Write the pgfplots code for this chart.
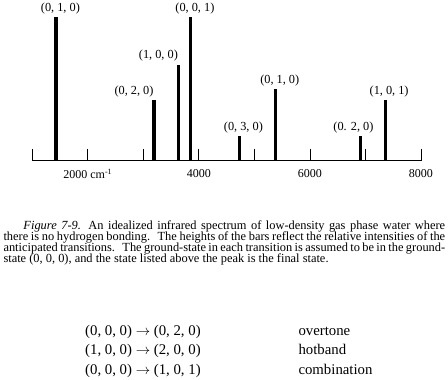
\documentclass[border=0pt]{standalone}
\usepackage{pgfplots}
\pgfplotsset{compat=1.18}
\usepackage{fontspec}
\setmainfont{Liberation Serif}
\begin{document}
\begin{tikzpicture}[x=1pt,y=1pt]
\useasboundingbox (0,0) rectangle (448,380);
\begin{axis}[
  at={(32.3pt,219.3pt)}, anchor=south west,
  scale only axis, width=388.7pt, height=143.4pt,
  xmin=1000, xmax=8000, ymin=0, ymax=100,
  axis x line*=bottom, axis y line=none,
  xtick={1000,2000,...,8000},
  xticklabels={,2000 cm\textsuperscript{-1},,4000,,6000,,8000},
  tick align=inside, major tick length=12pt,
  every tick/.style={black, line width=0.8pt},
  axis line style={line width=1.4pt},
  xticklabel style={font=\fontsize{12}{14}\selectfont, yshift=-5pt},
  clip=false,
]
\addplot[ycomb, line width=3.2pt, black, mark=none,
  nodes near coords, point meta=explicit symbolic,
  visualization depends on={\thisrow{dx}\as\dx},
  every node near coord/.append style={font=\fontsize{12.3}{14}\selectfont, xshift=\dx pt, text=black, anchor=south, inner sep=1.5pt}]
  table[x=x, y=y, meta=lab, col sep=semicolon] {
x;y;dx;lab
1425;100;4.5;(0, 1, 0)
3192;42;-20;(0, 2, 0)
3631;67;-20;(1, 0, 0)
3847;100;4.5;(0, 0, 1)
4730;17;4;(0, 3, 0)
5384;50;4;(0, 1, 0)
6910;17;-7;(0. 2, 0)
7354;42;4;(1, 0, 1)
};
\end{axis}
\node[anchor=base west, inner sep=0pt, font=\fontsize{12.4}{10.9}\selectfont] at (3.3,150.5)
  {\vtop{\baselineskip=10.9pt \lineskiplimit=-5pt
  \hbox to 441.7pt{\hspace*{20pt}\textit{Figure 7-9.}\hspace{0.6em}An idealized infrared spectrum of low-density gas phase water where}
  \hbox to 441.7pt{there is no hydrogen bonding.\hspace{0.6em}The heights of the bars reflect the relative intensities of the}
  \hbox to 441.7pt{anticipated transitions.\hspace{0.6em}The ground-state in each transition is assumed to be in the ground-}
  \hbox to 441.7pt{state (0, 0, 0), and the state listed above the peak is the final state.\hfil}}};
\begin{scope}[every node/.style={anchor=base west, inner sep=0pt, font=\fontsize{14.8}{17}\selectfont}]
\node at (85,44.6) {(0, 0, 0) $\rightarrow$ (0, 2, 0)};
\node at (85,25.6) {(1, 0, 0) $\rightarrow$ (2, 0, 0)};
\node at (85,5.6) {(0, 0, 0) $\rightarrow$ (1, 0, 1)};
\node at (298.3,44.6) {overtone};
\node at (298.3,25.6) {hotband};
\node at (298.3,5.6) {combination};
\end{scope}
\end{tikzpicture}
\end{document}
